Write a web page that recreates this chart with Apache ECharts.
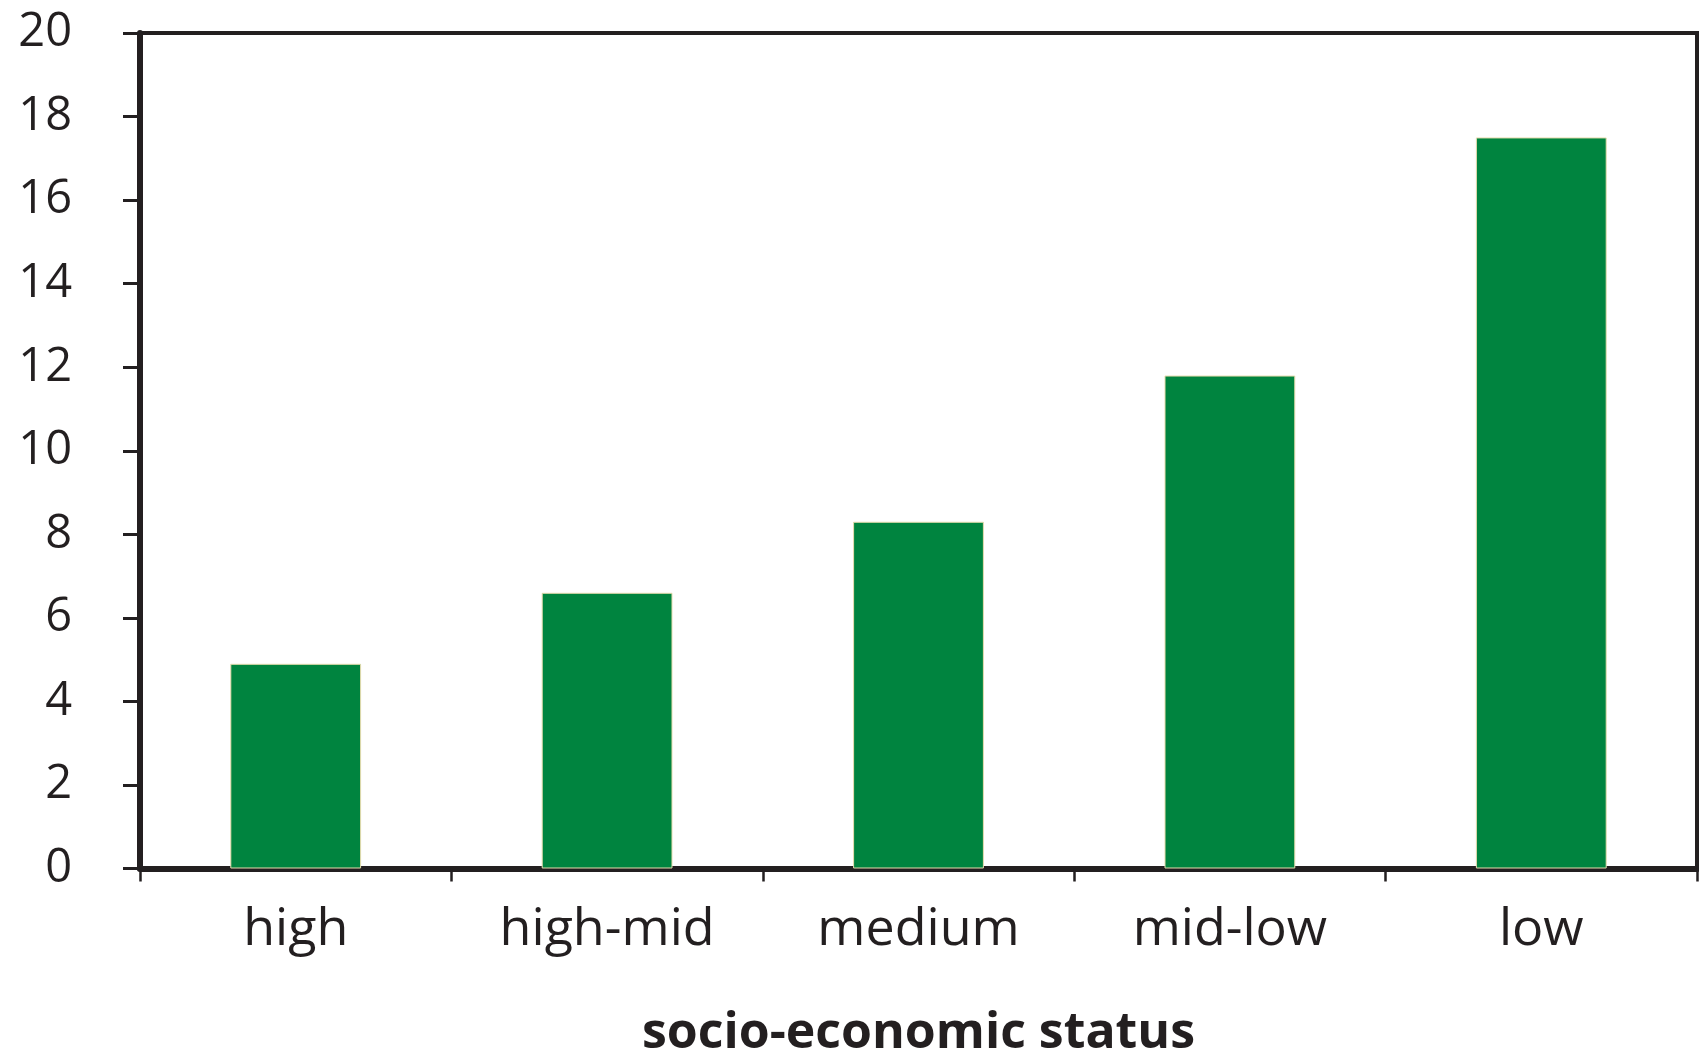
<!DOCTYPE html>
<html>
<head>
<meta charset="utf-8">
<script src="https://cdn.jsdelivr.net/npm/echarts@6/dist/echarts.min.js"></script>
<style>
html,body{margin:0;padding:0;background:#fff;}
#chart{width:1699px;height:1052px;}
</style>
</head>
<body>
<div id="chart"></div>
<script>
const categories = ['high', 'high-mid', 'medium', 'mid-low', 'low'];
const values = [4.9, 6.6, 8.3, 11.8, 17.5];
const yTicks = [0, 2, 4, 6, 8, 10, 12, 14, 16, 18, 20];
const xAxisTitle = 'socio-economic status';

const ink = '#231f20';
const font = '"Open Sans", "Noto Sans", sans-serif';

const chart = echarts.init(document.getElementById('chart'), null, {renderer: 'canvas'});
chart.setOption({
  animation: false,
  backgroundColor: '#ffffff',
  grid: {
    left: 140, right: 2, top: 33, bottom: 183.5,
    containLabel: false,
    outerBoundsMode: 'none',
    show: true, borderColor: ink, borderWidth: 4, backgroundColor: 'transparent'
  },
  xAxis: {
    type: 'category',
    data: categories,
    boundaryGap: true,
    axisLine: {lineStyle: {color: ink, width: 6}},
    axisTick: {show: true, length: 13, lineStyle: {color: ink, width: 2.5}},
    axisLabel: {color: ink, fontFamily: font, fontSize: 52, margin: 36},
    name: xAxisTitle,
    nameLocation: 'middle',
    nameGap: 140,
    nameTextStyle: {color: ink, fontFamily: font, fontSize: 50, fontWeight: 'bold'}
  },
  yAxis: {
    type: 'value',
    min: yTicks[0],
    max: yTicks[yTicks.length - 1],
    interval: 2,
    axisLine: {show: true, lineStyle: {color: ink, width: 6}},
    axisTick: {show: true, length: 17, lineStyle: {color: ink, width: 3}},
    axisLabel: {color: ink, fontFamily: font, fontSize: 47, margin: 68},
    splitLine: {show: false}
  },
  series: [{
    type: 'bar',
    data: values,
    barWidth: '42%',
    itemStyle: {color: '#00843f', borderColor: '#e6dcae', borderWidth: 1}
  }]
});
</script>
</body>
</html>
